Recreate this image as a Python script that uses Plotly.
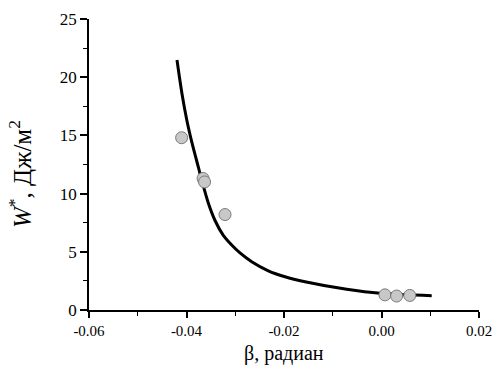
import plotly.graph_objects as go

beta_pts = [-0.0410, -0.0366, -0.0363, -0.0321, 0.0007, 0.0031, 0.0058]
w_pts = [14.8, 11.3, 11.0, 8.2, 1.3, 1.2, 1.25]

beta_fit = [-0.04195, -0.04092, -0.03990, -0.03887, -0.03750, -0.03688, -0.03553,
            -0.03415, -0.03245, -0.03073, -0.02903, -0.02663, -0.02322, -0.01980,
            -0.01569, -0.00714, -0.00031, 0.01030]
w_fit = [21.48, 18.56, 16.24, 14.35, 12.16, 11.17, 9.19,
         7.69, 6.41, 5.58, 4.90, 4.15, 3.37, 2.86,
         2.43, 1.78, 1.43, 1.23]

x_ticks = [-0.06, -0.04, -0.02, 0.00, 0.02]
x_tick_text = ["-0.06", "-0.04", "-0.02", "0.00", "0.02"]
y_ticks = [0, 5, 10, 15, 20, 25]

font = "Liberation Serif, Times New Roman, serif"

fig = go.Figure()
fig.add_trace(go.Scatter(
    x=beta_fit, y=w_fit, mode="lines", line=dict(color="black", width=3, shape="spline", smoothing=0.9),
    showlegend=False, hoverinfo="skip"))
fig.add_trace(go.Scatter(
    x=beta_pts, y=w_pts, mode="markers",
    marker=dict(size=12, color="#c8c8c8", line=dict(color="#7a7a7a", width=1)),
    showlegend=False))

fig.update_layout(
    width=498, height=370,
    margin=dict(l=89, r=19, t=19, b=60),
    paper_bgcolor="white", plot_bgcolor="white",
    font=dict(family=font, size=16, color="black"),
    xaxis=dict(range=[-0.06, 0.02], tickvals=x_ticks, ticktext=x_tick_text, automargin=False,
               showgrid=False, zeroline=False, showline=True, linecolor="black", linewidth=1.5,
               ticks="outside", ticklen=6, tickwidth=1.5, tickcolor="black",
               tickfont=dict(family=font, size=15),
               minor=dict(ticks="outside", ticklen=4, tickwidth=1.2, tickcolor="black", dtick=0.01, showgrid=False)),
    yaxis=dict(range=[0, 25], tickvals=y_ticks, automargin=False,
               showgrid=False, zeroline=False, showline=True, linecolor="black", linewidth=1.5,
               ticks="outside", ticklen=7, tickwidth=1.5, tickcolor="black",
               tickfont=dict(family=font, size=17),
               minor=dict(ticks="outside", ticklen=4, tickwidth=1.2, tickcolor="black", dtick=2.5, showgrid=False)),
    annotations=[
        dict(text="β, радиан", xref="paper", yref="paper", x=0.5, y=-43/291,
             xanchor="center", yanchor="middle", showarrow=False,
             font=dict(family=font, size=20, color="black")),
        dict(text="<i>W</i><sup>*</sup>, Дж/м<sup>2</sup>", xref="paper", yref="paper",
             x=(20 - 89) / 390, y=1 - (174 - 19) / 291, textangle=-90,
             xanchor="center", yanchor="middle", showarrow=False,
             font=dict(family=font, size=25, color="black")),
    ],
)

fig.write_html("out.html", config={"displayModeBar": False},
               post_script="document.body.style.margin='0px';")
